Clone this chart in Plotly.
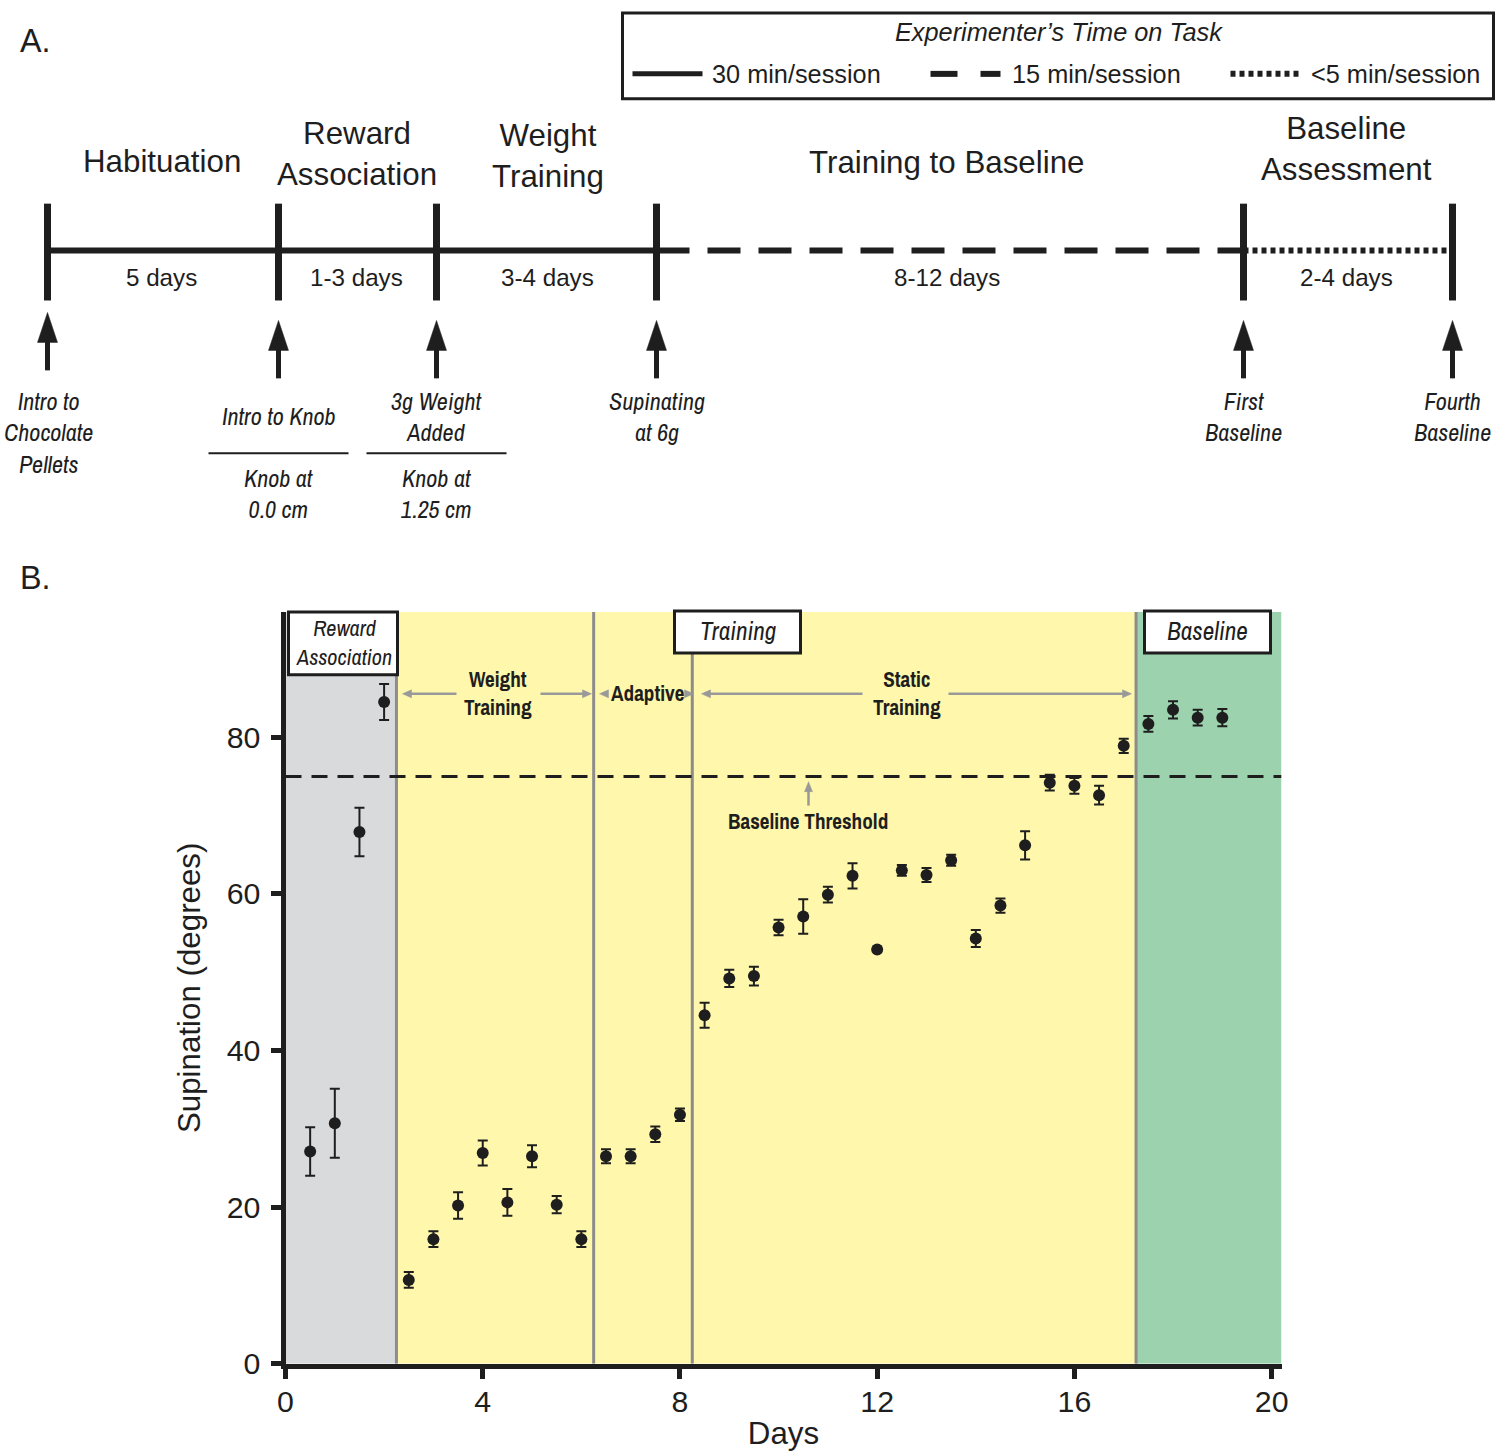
import plotly.graph_objects as go

W, H = 1500, 1456

# ---------------- data (panel B) ----------------
days = [0.5, 1.0, 1.5, 2.0, 2.5, 3.0, 3.5, 4.0, 4.5, 5.0, 5.5, 6.0, 6.5, 7.0, 7.5, 8.0,
        8.5, 9.0, 9.5, 10.0, 10.5, 11.0, 11.5, 12.0, 12.5, 13.0, 13.5, 14.0, 14.5, 15.0,
        15.5, 16.0, 16.5, 17.0, 17.5, 18.0, 18.5, 19.0]
supination = [27.1, 30.7, 67.9, 84.5, 10.7, 15.9, 20.2, 26.9, 20.6, 26.5, 20.3, 15.9,
              26.5, 26.5, 29.3, 31.8, 44.5, 49.2, 49.5, 55.7, 57.1, 59.9, 62.3, 52.9,
              63.0, 62.4, 64.3, 54.3, 58.5, 66.2, 74.2, 73.8, 72.6, 78.9, 81.7, 83.5,
              82.5, 82.5]
sem = [3.1, 4.4, 3.1, 2.3, 1.0, 1.0, 1.7, 1.6, 1.7, 1.4, 1.1, 1.0, 0.9, 0.9, 1.0, 0.8,
       1.6, 1.1, 1.2, 1.0, 2.2, 1.0, 1.6, 0.0, 0.7, 0.9, 0.7, 1.1, 0.9, 1.8, 1.0, 1.0,
       1.2, 0.9, 1.0, 1.1, 1.0, 1.1]
x_ticks = [0, 4, 8, 12, 16, 20]
y_ticks = [0, 20, 40, 60, 80]
phase_edges = [0, 2.25, 6.25, 8.25, 17.25, 20.2]
phase_colors = ["#d9dadc", "#fff8ac", "#fff8ac", "#fff8ac", "#9cd3ae"]
baseline_threshold = 75
x_max, y_max = 20.2, 96

# ---------------- data (panel A text) ----------------
phase_names = ["Habituation", "Reward<br>Association", "Weight<br>Training",
               "Training to Baseline", "Baseline<br>Assessment"]
durations = ["5 days", "1-3 days", "3-4 days", "8-12 days", "2-4 days"]
milestones = ["Intro to<br>Chocolate<br>Pellets", "Intro to Knob", "3g Weight<br>Added",
              "Supinating<br>at 6g", "First<br>Baseline", "Fourth<br>Baseline"]
knob_notes = ["", "Knob at<br>0.0 cm", "Knob at<br>1.25 cm", "", "", ""]
legend_items = ["30 min/session", "15 min/session", "<5 min/session"]

SANS = "Liberation Sans, Arial, sans-serif"
NARROW = "Archivo Narrow, Liberation Sans Narrow, Arial Narrow, sans-serif"
INK = "#1e1e1e"
GREY = "#8c8c8c"

# screenshot calibration (page -> picture): x' = 0.99 x + 7.5, y' = 0.99 y - 1
SC = 0.99
OX, OY = 7.5, -1.0


def px(x):
    return ((x - OX) / SC) / W


def py(y):
    return 1 - ((y - OY) / SC) / H


def fs(s):
    return round(s / SC, 1)


shapes = []
ann = []


def hline(x0, x1, y, width, color=INK, dash="solid"):
    shapes.append(dict(type="line", xref="paper", yref="paper", x0=px(x0), x1=px(x1),
                       y0=py(y), y1=py(y), line=dict(color=color, width=width, dash=dash)))


def vline(x, y0, y1, width, color=INK):
    shapes.append(dict(type="line", xref="paper", yref="paper", x0=px(x), x1=px(x),
                       y0=py(y0), y1=py(y1), line=dict(color=color, width=width)))


def tri(points, color):
    path = "M " + " L ".join(f"{px(a)},{py(b)}" for a, b in points) + " Z"
    shapes.append(dict(type="path", xref="paper", yref="paper", path=path,
                       fillcolor=color, line=dict(color=color, width=0.5)))


def rect(x0, y0, x1, y1, width=3, fill="white"):
    shapes.append(dict(type="rect", xref="paper", yref="paper", x0=px(x0), x1=px(x1),
                       y0=py(y1), y1=py(y0), fillcolor=fill, line=dict(color=INK, width=width)))


def text(x, y, t, size, family=SANS, xanchor="center", color=INK):
    ann.append(dict(x=px(x), y=py(y), xref="paper", yref="paper", text=t, showarrow=False,
                    xanchor=xanchor, yanchor="middle",
                    font=dict(family=family, size=fs(size), color=color)))


# ---------------- Panel A ----------------
text(17, 40, "A.", 32, xanchor="left")
text(17, 578, "B.", 32, xanchor="left")

# legend box
rect(622, 12, 1493, 98, width=3, fill="rgba(0,0,0,0)")
text(1058, 31, "<i>Experimenter\u2019s Time on Task</i>", 25)
hline(632, 702, 73, 5)
text(709, 73, legend_items[0], 25, xanchor="left")
hline(930, 957, 73, 6)
hline(980, 1000, 73, 6)
text(1009, 73, legend_items[1], 25, xanchor="left")
hline(1230, 1300, 73, 6, dash="5px,4px")
text(1308, 73, legend_items[2], 25, xanchor="left")

# timeline
ticks_x = [47, 278, 436, 656, 1243, 1452]
hline(47, 656, 250, 6)
hline(656, 1243, 250, 6, dash="33px,18px")
hline(1243, 1452, 250, 6, dash="5px,4px")
for tx in ticks_x:
    vline(tx, 203, 300, 7)

phase_x = [161, 356, 547, 946, 1346]
phase_y = [161, 153, 155, 162, 148]
for name, cx, cy in zip(phase_names, phase_x, phase_y):
    text(cx, cy, name, 31)
for d, cx in zip(durations, phase_x):
    text(cx, 277, d, 24)

# arrows
for i, tx in enumerate(ticks_x):
    top = 312 if i == 0 else 320
    tri([(tx, top), (tx - 10, top + 30), (tx + 10, top + 30)], INK)
    vline(tx, top + 28, top + 58, 5)

text(48, 433, "<i>" + milestones[0] + "</i>", 24, family=NARROW)
text(278, 416, "<i>" + milestones[1] + "</i>", 24, family=NARROW)
text(436, 417, "<i>" + milestones[2] + "</i>", 24, family=NARROW)
for m, tx in zip(milestones[3:], ticks_x[3:]):
    text(tx, 417, "<i>" + m + "</i>", 24, family=NARROW)
hline(208, 348, 453, 2)
hline(366, 506, 453, 2)
text(278, 494, "<i>" + knob_notes[1] + "</i>", 24, family=NARROW)
text(436, 494, "<i>" + knob_notes[2] + "</i>", 24, family=NARROW)

# ---------------- Panel B ----------------
for i in range(len(phase_colors)):
    shapes.append(dict(type="rect", xref="x", yref="y", x0=phase_edges[i], x1=phase_edges[i + 1],
                       y0=0, y1=y_max, fillcolor=phase_colors[i], line=dict(width=0), layer="below"))
for xe in phase_edges[1:-1]:
    shapes.append(dict(type="line", xref="x", yref="y", x0=xe, x1=xe, y0=0, y1=y_max,
                       line=dict(color=GREY, width=3), layer="below"))
shapes.append(dict(type="line", xref="x", yref="y", x0=0, x1=x_max, y0=baseline_threshold,
                   y1=baseline_threshold, line=dict(color=INK, width=3, dash="16px,10px"),
                   layer="below"))

rect(288, 612, 397, 675)
text(343, 643, "<i>Reward<br>Association</i>", 22, family=NARROW)
rect(674, 611, 800, 653)
text(737, 631, "<i>Training</i>", 25, family=NARROW)
rect(1144, 611, 1270, 653)
text(1207, 631, "<i>Baseline</i>", 25, family=NARROW)

ARW = "#999999"


def left_head(x, y):
    tri([(x, y), (x + 9, y - 4), (x + 9, y + 4)], ARW)


def right_head(x, y):
    tri([(x, y), (x - 9, y - 4), (x - 9, y + 4)], ARW)


ya = 694
hline(406, 456, ya, 2.5, color=ARW)
hline(540, 587, ya, 2.5, color=ARW)
left_head(402, ya)
right_head(591, ya)
text(497, 694, "<b>Weight<br>Training</b>", 21, family=NARROW)

hline(602, 606, ya, 2.5, color=ARW)
hline(687, 690, ya, 2.5, color=ARW)
left_head(599, ya)
right_head(693, ya)
text(647, 694, "<b>Adaptive</b>", 21, family=NARROW)

hline(705, 862, ya, 2.5, color=ARW)
hline(948, 1127, ya, 2.5, color=ARW)
left_head(701, ya)
right_head(1131, ya)
text(906, 694, "<b>Static<br>Training</b>", 21, family=NARROW)

vline(808, 806, 790, 2.5, color=ARW)
tri([(808, 782), (804, 792), (812, 792)], ARW)
text(808, 822, "<b>Baseline Threshold</b>", 21, family=NARROW)

fig = go.Figure()
fig.add_trace(go.Scatter(
    x=days, y=supination, mode="markers",
    marker=dict(size=12, color=INK),
    error_y=dict(type="data", array=sem, visible=True, color=INK, thickness=2, width=5),
    showlegend=False, hoverinfo="x+y"))

axis_common = dict(showgrid=False, zeroline=False, showline=True, linecolor=INK, linewidth=5,
                   ticks="outside", ticklen=10, tickwidth=5, tickcolor=INK,
                   tickfont=dict(family=SANS, size=fs(30), color=INK))

fig.update_layout(
    width=W, height=H, margin=dict(l=0, r=0, t=0, b=0),
    paper_bgcolor="white", plot_bgcolor="white",
    xaxis=dict(domain=[px(285), px(1281)], range=[0, x_max], tickvals=x_ticks,
               ticklabelstandoff=-3,
               title=dict(text="Days", font=dict(family=SANS, size=fs(31), color=INK), standoff=7),
               **axis_common),
    yaxis=dict(domain=[py(1365), py(612)], range=[0, y_max], tickvals=y_ticks,
               ticklabelstandoff=4,
               title=dict(text="Supination (degrees)", font=dict(family=SANS, size=fs(31), color=INK),
                          standoff=18),
               **axis_common),
    shapes=shapes, annotations=ann,
)

fig.write_html("out.html", config={"displayModeBar": False},
               post_script="document.body.style.margin='0px';document.body.style.overflow='hidden';")
